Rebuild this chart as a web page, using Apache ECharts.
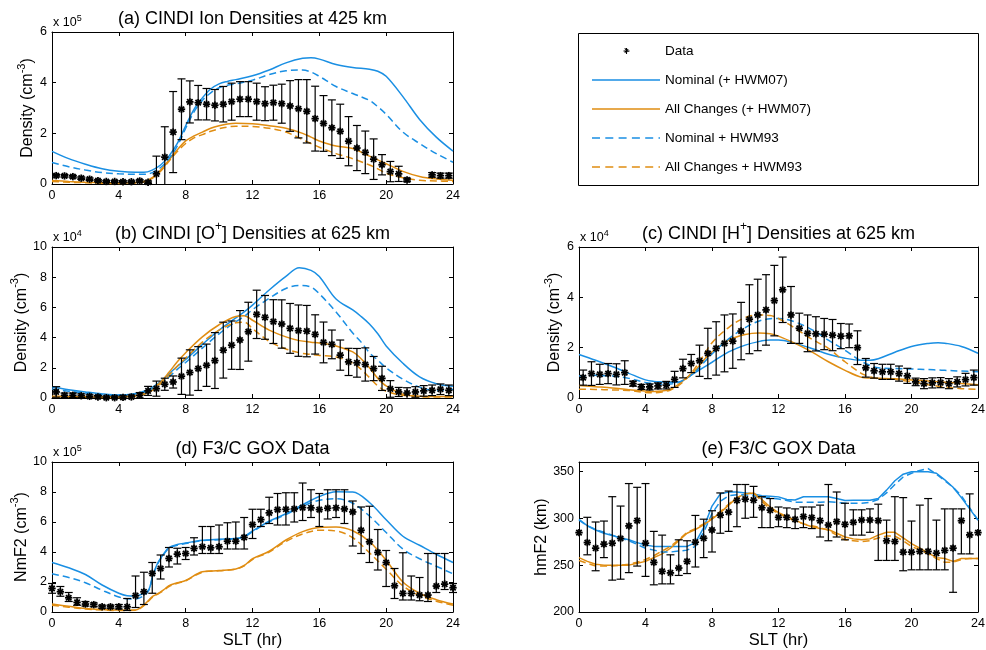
<!DOCTYPE html>
<html>
<head>
<meta charset="utf-8">
<title>CINDI and F3/C GOX comparisons</title>
<script src="https://cdn.jsdelivr.net/npm/echarts@6.0.0/dist/echarts.min.js"></script>
<style>
  html, body { margin: 0; padding: 0; background: #fff; }
  #chart { width: 986px; height: 650px; }
</style>
</head>
<body>
<div id="chart"></div>
<script>
// ---------------- series names ----------------
const NAME_DATA = 'Data';
const NAME_NOM = 'Nominal (+ HWM07)';
const NAME_ALL = 'All Changes (+ HWM07)';
const NAME_NOM93 = 'Nominal + HWM93';
const NAME_ALL93 = 'All Changes + HWM93';

// ---------------- (a) CINDI ion densities at 425 km, units of 1e5 cm^-3 ----------------
const ionObsHours = [0.25,0.75,1.25,1.75,2.25,2.75,3.25,3.75,4.25,4.75,5.25,5.75,6.25,6.75,7.25,7.75,8.25,8.75,9.25,9.75,10.25,10.75,11.25,11.75,12.25,12.75,13.25,13.75,14.25,14.75,15.25,15.75,16.25,16.75,17.25,17.75,18.25,18.75,19.25,19.75,20.25,20.75,21.25,22.75,23.25,23.75];
const ionObs = [0.33,0.32,0.29,0.23,0.19,0.13,0.10,0.10,0.09,0.09,0.12,0.07,
  0.40,1.06,2.05,2.95,3.24,3.21,3.15,3.11,3.15,3.25,3.35,3.35,3.25,3.17,3.21,3.17,3.08,2.97,2.87,2.58,2.39,2.22,2.08,1.69,1.42,1.25,0.98,0.76,0.49,0.40,0.16,
  0.36,0.33,0.33];
const ionErr = [0.05,0.05,0.05,0.05,0.05,0.04,0.04,0.04,0.04,0.04,0.05,0.05,
  0.70,1.20,1.60,1.20,0.83,0.68,0.62,0.62,0.70,0.73,0.69,0.69,0.73,0.67,0.69,0.77,1.00,1.15,1.25,1.28,1.10,1.10,1.07,0.97,0.89,0.84,0.80,0.40,0.40,0.30,0.07,
  0.09,0.10,0.10];
const ionModelHours = [0,1,2,3,4,5,5.5,6,6.5,7,7.5,8,8.5,9,9.5,10,10.5,11,12,13,14,15,15.5,16,17,18,19,19.5,20,21,22,23,24];
const ionNominal = [1.29,1.0,0.78,0.6,0.5,0.46,0.46,0.55,0.75,1.1,1.6,2.3,2.95,3.4,3.75,3.95,4.05,4.12,4.27,4.5,4.78,4.96,4.98,4.93,4.72,4.6,4.53,4.45,4.25,3.45,2.55,1.85,1.3];
const ionAllChanges = [0.14,0.1,0.07,0.05,0.04,0.06,0.1,0.25,0.55,0.95,1.35,1.7,1.9,2.05,2.2,2.3,2.37,2.4,2.38,2.3,2.2,2.0,1.85,1.7,1.5,1.4,1.1,0.95,0.8,0.5,0.3,0.2,0.15];
const ionNominal93 = [0.85,0.68,0.55,0.45,0.4,0.38,0.38,0.45,0.65,1.0,1.5,2.2,2.85,3.3,3.6,3.8,3.9,3.95,4.1,4.32,4.47,4.5,4.42,4.25,3.85,3.57,3.3,3.05,2.75,2.05,1.6,1.2,0.86];
const ionAllChanges93 = [0.1,0.07,0.05,0.03,0.02,0.04,0.08,0.22,0.5,0.9,1.28,1.6,1.82,1.95,2.08,2.18,2.25,2.28,2.27,2.2,2.05,1.75,1.6,1.45,1.2,1.0,0.75,0.6,0.42,0.25,0.15,0.12,0.1];

// ---------------- (b) and (c) CINDI bins at 625 km ----------------
const cindiHours = [0.25,0.75,1.25,1.75,2.25,2.75,3.25,3.75,4.25,4.75,5.25,5.75,6.25,6.75,7.25,7.75,8.25,8.75,9.25,9.75,10.25,10.75,11.25,11.75,12.25,12.75,13.25,13.75,14.25,14.75,15.25,15.75,16.25,16.75,17.25,17.75,18.25,18.75,19.25,19.75,20.25,20.75,21.25,21.75,22.25,22.75,23.25,23.75];

// (b) [O+], units of 1e4 cm^-3
const oxObs = [0.4,0.18,0.18,0.15,0.11,0.07,0.02,0.02,0.04,0.07,0.18,0.47,
  0.62,0.91,1.06,1.44,1.69,1.95,2.17,2.48,3.17,3.5,3.84,4.39,
  5.54,5.34,5.06,4.9,4.61,4.46,4.43,4.21,3.68,3.55,2.84,2.39,
  2.33,2.22,1.95,1.3,0.6,0.4,0.33,0.4,0.47,0.51,0.58,0.51];
const oxErr = [0.35,0.15,0.15,0.12,0.1,0.1,0.1,0.1,0.1,0.12,0.18,0.3,
  0.5,0.4,0.4,1.2,1.5,1.45,1.4,1.85,1.85,1.6,1.95,1.95,
  1.6,1.45,1.45,1.6,1.65,1.7,1.7,1.3,1.35,0.95,1.0,0.9,
  0.95,1.1,0.8,0.8,0.55,0.3,0.35,0.35,0.35,0.35,0.35,0.35];
const oxModelHours = [0,1,2,3,4,5,5.5,6,6.5,7,7.5,8,9,10,11,11.5,12,13,14,14.8,15.5,16,17,18,18.5,19,19.5,20,21,22,23,24];
const oxNominal = [0.73,0.55,0.4,0.27,0.2,0.3,0.45,0.7,1.1,1.6,2.1,2.55,3.55,4.5,5.3,5.7,6.15,7.15,8.05,8.62,8.45,8.05,6.55,5.83,5.4,4.9,4.25,3.45,2.3,1.4,0.95,0.78];
const oxAllChanges = [0.12,0.1,0.08,0.06,0.06,0.15,0.3,0.6,1.05,1.7,2.4,3.0,4.05,4.85,5.4,5.45,5.15,4.5,4.05,3.8,3.7,3.65,3.45,3.05,2.6,2.0,1.3,0.8,0.25,0.12,0.1,0.1];
const oxNominal93 = [0.6,0.45,0.33,0.23,0.18,0.25,0.38,0.6,0.95,1.4,1.9,2.35,3.3,4.25,5.05,5.4,5.85,6.6,7.25,7.45,7.35,6.9,5.7,4.3,3.7,3.0,2.5,2.0,1.25,0.72,0.5,0.58];
const oxAllChanges93 = [0.08,0.06,0.05,0.04,0.04,0.12,0.25,0.5,0.95,1.5,2.1,2.65,3.7,4.5,4.98,5.02,4.6,3.75,3.25,3.0,2.88,2.82,2.72,2.3,1.9,1.35,0.8,0.45,0.18,0.08,0.06,0.06];

// (c) [H+], units of 1e4 cm^-3
const hyObs = [0.81,0.97,0.94,0.97,0.94,1.01,0.57,0.44,0.44,0.48,0.51,0.74,
  1.17,1.37,1.48,1.77,1.97,2.17,2.26,2.66,3.13,3.3,3.5,3.87,
  4.3,3.3,2.77,2.57,2.55,2.54,2.5,2.46,2.47,2.0,1.2,1.08,
  1.04,1.04,0.97,0.88,0.64,0.57,0.6,0.61,0.57,0.64,0.73,0.81];
const hyErr = [0.3,0.47,0.4,0.4,0.42,0.47,0.1,0.1,0.12,0.12,0.15,0.32,
  0.37,0.36,0.62,1.0,1.06,1.13,1.08,1.14,1.37,1.42,1.4,1.4,
  1.3,1.13,0.6,0.73,0.68,0.62,0.62,0.5,0.47,0.67,0.37,0.29,
  0.3,0.3,0.3,0.3,0.15,0.2,0.2,0.2,0.2,0.2,0.25,0.3];
const hyModelHours = [0,1,2,3,4,4.5,5,5.5,6,6.5,7,7.5,8,9,10,10.8,11.5,12,13,14,15,16,17,17.5,18,19,20,21,21.6,22,23,24];
const hyNominal = [1.73,1.5,1.25,0.98,0.72,0.66,0.64,0.63,0.64,0.8,1.02,1.22,1.42,1.83,2.1,2.24,2.3,2.3,2.17,1.97,1.74,1.58,1.5,1.5,1.56,1.82,2.05,2.17,2.2,2.18,2.05,1.78];
const hyAllChanges = [0.5,0.45,0.4,0.33,0.28,0.26,0.28,0.35,0.55,0.82,1.1,1.5,1.83,2.3,2.52,2.58,2.55,2.46,2.17,1.83,1.44,1.1,0.82,0.79,0.78,0.76,0.72,0.68,0.65,0.63,0.58,0.53];
const hyNominal93 = [0.87,0.9,0.87,0.78,0.62,0.57,0.55,0.56,0.62,0.8,1.05,1.4,1.75,2.35,2.8,3.05,3.15,3.16,3.02,2.72,2.3,1.9,1.45,1.3,1.2,1.17,1.15,1.13,1.11,1.1,1.07,1.04];
const hyAllChanges93 = [0.35,0.34,0.32,0.3,0.22,0.21,0.24,0.32,0.5,0.8,1.2,1.7,2.2,2.8,3.2,3.3,3.28,3.16,2.77,2.34,1.97,1.44,0.97,0.85,0.77,0.74,0.64,0.53,0.47,0.44,0.37,0.35];

// ---------------- (d) and (e) F3/C GOX half-hour bins ----------------
const goxHours = [0,0.5,1,1.5,2,2.5,3,3.5,4,4.5,5,5.5,6,6.5,7,7.5,8,8.5,9,9.5,10,10.5,11,11.5,12,12.5,13,13.5,14,14.5,15,15.5,16,16.5,17,17.5,18,18.5,19,19.5,20,20.5,21,21.5,22,22.5,23,23.5,24];

// (d) NmF2, units of 1e5 cm^-3
const nmObs = [1.57,1.35,0.95,0.64,0.53,0.49,0.35,0.35,0.35,0.35,
  1.09,1.35,2.57,2.9,3.57,3.86,3.9,4.24,4.35,4.28,
  4.35,4.72,4.72,4.97,5.83,6.16,6.61,6.83,6.85,6.87,
  6.96,6.94,6.83,6.92,6.94,6.87,6.67,5.45,4.68,3.97,
  3.3,1.75,1.24,1.24,1.13,1.13,1.73,1.86,1.62];
const nmLow = [1.25,1.05,0.7,0.45,0.4,0.35,0.25,0.25,0.2,0.1,
  0.3,0.5,1.25,2.2,3.0,3.2,3.5,3.8,3.9,3.9,
  3.9,4.2,4.2,4.2,4.9,5.7,5.9,5.8,5.8,6.0,
  6.1,6.3,5.7,6.2,6.3,5.9,4.4,3.9,3.3,2.8,
  1.7,0.9,0.8,0.8,0.75,0.7,1.3,1.5,1.3];
const nmHigh = [1.9,1.7,1.3,0.95,0.7,0.6,0.45,0.45,0.5,0.9,
  2.4,2.65,3.3,3.8,4.3,4.25,4.3,4.95,5.7,5.7,
  5.8,5.95,6.0,6.3,6.85,6.85,7.65,7.9,7.95,7.95,
  8.6,8.15,7.9,8.15,8.15,8.15,7.4,7.0,7.05,5.5,
  4.1,2.9,3.95,2.4,2.3,3.9,3.9,3.9,1.9];
const nmModelHours = [0,1,2,3,4,4.5,5,5.5,5.8,6,6.3,6.7,7,7.5,8,9,10,11,11.5,12,13,14,15,16,17,18,19,20,21,22,23,24];
const nmNominal = [3.3,2.95,2.5,1.8,1.25,1.09,1.07,1.24,1.5,2.3,3.2,3.9,4.3,4.5,4.6,4.78,4.85,4.9,5.05,5.4,6.05,6.55,7.15,7.7,8.02,8.0,7.3,6.15,5.05,4.45,3.85,3.3];
const nmAllChanges = [0.53,0.38,0.24,0.17,0.13,0.12,0.13,0.47,0.8,1.02,1.2,1.5,1.75,1.95,2.1,2.68,2.76,2.87,3.1,3.55,4.05,4.8,5.36,5.64,5.67,5.42,4.7,3.45,2.0,1.25,0.82,0.53];
const nmNominal93 = [2.55,2.3,1.95,1.45,1.0,0.88,0.87,1.1,1.45,2.25,3.15,3.85,4.25,4.45,4.57,4.75,4.82,4.88,5.0,5.35,6.0,6.5,7.05,7.45,7.55,7.25,6.4,5.3,4.2,3.55,3.05,2.55];
const nmAllChanges93 = [0.45,0.32,0.2,0.13,0.1,0.1,0.11,0.42,0.75,0.98,1.17,1.45,1.7,1.92,2.08,2.65,2.75,2.86,3.08,3.5,4.0,4.7,5.2,5.45,5.4,4.95,3.95,2.85,1.75,1.1,0.72,0.45];

// (e) hmF2, km
const hmObs = [284.7,274.1,268.1,272.4,273.4,278.4,291.8,297.4,273.4,252.9,
  243.4,241.7,246.9,254,274.5,278.7,287.5,303.4,306.6,319,
  320.4,319.3,311.2,308.7,301,301,298.8,301.7,300.6,297.4,
  292.8,296.4,293.5,295.7,298.1,298.1,297.4,275.9,275.2,263.9,
  263.9,264.6,264.6,262.8,265.7,268.1,297.4,282.2,284.7];
const hmLow = [284.7,261,244,258,234,235,242,249,238,229,
  230,230,239,241,248,258,264,284,286,291,
  300,301,290,290,291,290,289,290,289,280,
  276,280,277,282,282,285,255,255,255,244,
  245,245,245,245,245,221,262,262,284.7];
const hmHigh = [284.7,301,296,297,323,313,337,333,337,286,
  282,261,277,276,303,299,308,327,329,336,
  336,334,323,321,312,311,310,312,312,314,
  336,328,316,309,309,310,315,298,323,322,
  297,314,321,298,310,310,310,326,284.7];
const hmNominal = [298.8,292,287.5,284,281.5,279,277,274,271.5,270,
  270,270,270,270,274,290,313,326,328,328,
  327,326,324,323.5,322.8,320,319.5,323,323,323,
  323,321,319,319.3,319.3,319.3,321,330,340,347,
  349.5,349.5,349.5,348,341,333,322,310,298];
const hmAllChanges = [258,254,251,250,250,250,250,252,254,258,
  262,268,276,284,288,293,299,306,314,322,
  326,327,320,312,306,302,298,294,291,289,
  288,284,280,278,277,278,282,285,285,279,
  273,268,263,258,257,254,257,257,257];
const hmNominal93 = [298,292,288,285,282,279,276,272,268,266,
  264,264,265,266,270,285,305,318,324,325,
  325,324,322.5,321.5,320.5,319,317,317,317,317,
  317.5,317,316,316,316,317,320,327,336,344,
  348,351,353,347,340,333,324,311,298];
const hmAllChanges93 = [255,252,249,249,249,250,251,253,256,260,
  265,270,277,285,289,294,300,307,315,322,
  326,327,318,310,305,301,297,294,292,290,
  287,282,277,276,275,276,279,281,281,276,
  270,266,262,257,253,253,256,257,257];

// ---------------- styling ----------------
const FONT = '"Liberation Sans", Arial, Helvetica, sans-serif';
const BLUE = '#1a8fe3';
const ORANGE = '#e08d12';
const INK = '#000';

const pairs = (xs, ys) => xs.map((x, i) => [x, ys[i]]);
const symErr = (xs, ys, es) => xs.map((x, i) => [x, ys[i], ys[i] - es[i], ys[i] + es[i]]);
const rangeErr = (xs, ys, lo, hi) => xs.map((x, i) => [x, ys[i], lo[i], hi[i]]);

const panels = [
  { grid: { left: 52, top: 32, width: 401, height: 152 }, yMin: 0, yMax: 6, yStep: 2,
    title: '{n|(a) CINDI Ion Densities at 425 km}', exp: '5',
    yName: '{n|Density (cm}{s|-3}{n|)}', yGap: 16, xName: '',
    obs: symErr(ionObsHours, ionObs, ionErr), mh: ionModelHours,
    nom: ionNominal, all: ionAllChanges, nom93: ionNominal93, all93: ionAllChanges93, smooth: 0.35 },
  { grid: { left: 52, top: 247, width: 401, height: 151 }, yMin: 0, yMax: 10, yStep: 2,
    title: '{n|(b) CINDI [O}{s|+}{n|] Densities at 625 km}', exp: '4',
    yName: '{n|Density (cm}{s|-3}{n|)}', yGap: 16, xName: '',
    obs: symErr(cindiHours, oxObs, oxErr), mh: oxModelHours,
    nom: oxNominal, all: oxAllChanges, nom93: oxNominal93, all93: oxAllChanges93, smooth: 0.35 },
  { grid: { left: 579, top: 247, width: 399, height: 151 }, yMin: 0, yMax: 6, yStep: 2,
    title: '{n|(c) CINDI [H}{s|+}{n|] Densities at 625 km}', exp: '4',
    yName: '{n|Density (cm}{s|-3}{n|)}', yGap: 16, xName: '',
    obs: symErr(cindiHours, hyObs, hyErr), mh: hyModelHours,
    nom: hyNominal, all: hyAllChanges, nom93: hyNominal93, all93: hyAllChanges93, smooth: 0.35 },
  { grid: { left: 52, top: 462, width: 401, height: 150 }, yMin: 0, yMax: 10, yStep: 2,
    title: '{n|(d) F3/C GOX Data}', exp: '5',
    yName: '{n|NmF2 (cm}{s|-3}{n|)}', yGap: 22, xName: 'SLT (hr)',
    obs: rangeErr(goxHours, nmObs, nmLow, nmHigh), mh: nmModelHours,
    nom: nmNominal, all: nmAllChanges, nom93: nmNominal93, all93: nmAllChanges93, smooth: 0.35 },
  { grid: { left: 579, top: 462, width: 399, height: 150 }, yMin: 200, yMax: 360, yStep: 50,
    title: '{n|(e) F3/C GOX Data}', exp: '',
    yName: '{n|hmF2 (km)}', yGap: 28, xName: 'SLT (hr)',
    obs: rangeErr(goxHours, hmObs, hmLow, hmHigh), mh: goxHours,
    nom: hmNominal, all: hmAllChanges, nom93: hmNominal93, all93: hmAllChanges93, smooth: false }
];

const richLabel = (size) => ({
  n: { fontSize: size, fontFamily: FONT, color: INK, lineHeight: size + 4, verticalAlign: 'bottom' },
  s: { fontSize: Math.round(size * 0.68), fontFamily: FONT, color: INK, lineHeight: size + 4, verticalAlign: 'top' }
});

// error bars with caps plus an asterisk marker at the bin value
function errorBarItem(params, api) {
  const cs = params.coordSys;
  const top = cs.y, bottom = cs.y + cs.height;
  const x = api.value(0);
  const c = api.coord([x, api.value(1)]);
  const lo = api.coord([x, api.value(2)])[1];
  const hi = api.coord([x, api.value(3)])[1];
  const bar = { stroke: INK, lineWidth: 1.2 };
  const kids = [];
  if (lo - hi > 0.5) {
    kids.push({ type: 'line', shape: { x1: c[0], y1: Math.max(hi, top), x2: c[0], y2: Math.min(lo, bottom) }, style: bar });
    const w = 4;
    if (hi >= top) kids.push({ type: 'line', shape: { x1: c[0] - w, y1: hi, x2: c[0] + w, y2: hi }, style: bar });
    if (lo <= bottom) kids.push({ type: 'line', shape: { x1: c[0] - w, y1: lo, x2: c[0] + w, y2: lo }, style: bar });
  }
  const r = 3.7, d = 2.7;
  const star = { stroke: INK, lineWidth: 1.8 };
  kids.push({ type: 'line', shape: { x1: c[0] - r, y1: c[1], x2: c[0] + r, y2: c[1] }, style: star });
  kids.push({ type: 'line', shape: { x1: c[0], y1: c[1] - r, x2: c[0], y2: c[1] + r }, style: star });
  kids.push({ type: 'line', shape: { x1: c[0] - d, y1: c[1] - d, x2: c[0] + d, y2: c[1] + d }, style: star });
  kids.push({ type: 'line', shape: { x1: c[0] - d, y1: c[1] + d, x2: c[0] + d, y2: c[1] - d }, style: star });
  return { type: 'group', children: kids };
}

const grids = [], xAxes = [], yAxes = [], series = [], graphics = [];

panels.forEach((p, i) => {
  grids.push(Object.assign({ containLabel: false, outerBoundsMode: 'none' }, p.grid));
  const tickStyle = { show: true, inside: true, length: 4, lineStyle: { color: INK, width: 1 } };
  const lineStyle = { show: true, onZero: false, lineStyle: { color: INK, width: 1 } };
  const labelStyle = { color: INK, fontFamily: FONT, fontSize: 12.5 };
  xAxes.push({
    type: 'value', gridIndex: i, position: 'bottom', min: 0, max: 24, interval: 4,
    axisLine: lineStyle, axisTick: tickStyle, splitLine: { show: false },
    axisLabel: Object.assign({ margin: 5 }, labelStyle),
    name: p.xName, nameLocation: 'middle', nameGap: 20,
    nameTextStyle: { color: INK, fontFamily: FONT, fontSize: 16.5 }
  });
  yAxes.push({
    type: 'value', gridIndex: i, position: 'left', min: p.yMin, max: p.yMax, interval: p.yStep,
    axisLine: lineStyle, axisTick: tickStyle, splitLine: { show: false },
    axisLabel: Object.assign({ margin: 5, showMaxLabel: p.yMax % p.yStep === 0 }, labelStyle),
    name: p.yName, nameLocation: 'middle', nameRotate: 90, nameGap: p.yGap,
    nameTextStyle: { color: INK, fontFamily: FONT, fontSize: 16, rich: richLabel(16) }
  });

  const mk = (name, vals, color, type) => ({
    name, type: 'line', xAxisIndex: i, yAxisIndex: i, data: pairs(p.mh, vals),
    symbol: 'none', smooth: p.smooth, color, silent: true, z: 2,
    lineStyle: { color, width: 1.5, type }
  });
  series.push(mk(NAME_NOM, p.nom, BLUE, 'solid'));
  series.push(mk(NAME_ALL, p.all, ORANGE, 'solid'));
  series.push(mk(NAME_NOM93, p.nom93, BLUE, [7, 4]));
  series.push(mk(NAME_ALL93, p.all93, ORANGE, [7, 4]));
  series.push({
    name: NAME_DATA, type: 'custom', xAxisIndex: i, yAxisIndex: i, data: p.obs,
    renderItem: errorBarItem, itemStyle: { color: INK }, silent: true, z: 3,
    encode: { x: 0, y: 1 }
  });

  const cx = p.grid.left + p.grid.width / 2;
  graphics.push({
    type: 'text', x: cx, y: p.grid.top - 15, silent: true,
    style: { text: p.title, align: 'center', verticalAlign: 'middle', fill: INK,
      fontFamily: FONT, fontSize: 18,
      rich: {
        n: { fontSize: 18, fontFamily: FONT, fill: INK, lineHeight: 22, verticalAlign: 'bottom' },
        s: { fontSize: 12, fontFamily: FONT, fill: INK, lineHeight: 22, verticalAlign: 'top' }
      } }
  });
  if (p.exp) {
    graphics.push({
      type: 'text', x: p.grid.left + 1, y: p.grid.top - 3, silent: true,
      style: { text: '{n|x 10}{s|' + p.exp + '}', align: 'left', verticalAlign: 'bottom', fill: INK,
        rich: {
          n: { fontSize: 12.5, fontFamily: FONT, fill: INK, lineHeight: 15, verticalAlign: 'bottom' },
          s: { fontSize: 9, fontFamily: FONT, fill: INK, lineHeight: 15, verticalAlign: 'top' }
        } }
    });
  }
});

// mirrored tick marks along the top and right edges of every panel
panels.forEach((p, i) => {
  const tickStyle = { show: true, inside: true, length: 4, lineStyle: { color: INK, width: 1 } };
  const lineStyle = { show: true, onZero: false, lineStyle: { color: INK, width: 1 } };
  xAxes.push({ type: 'value', gridIndex: i, position: 'top', min: 0, max: 24, interval: 4,
    axisLine: lineStyle, axisTick: tickStyle, axisLabel: { show: false }, splitLine: { show: false } });
  yAxes.push({ type: 'value', gridIndex: i, position: 'right', min: p.yMin, max: p.yMax, interval: p.yStep,
    axisLine: lineStyle, axisTick: tickStyle, axisLabel: { show: false }, splitLine: { show: false } });
});

// legend frame
graphics.push({
  type: 'rect', silent: true, z: 0,
  shape: { x: 578.5, y: 33.5, width: 400, height: 152 },
  style: { fill: 'none', stroke: INK, lineWidth: 1 }
});

// legend icons (68 x 8 boxes)
const BOX = 'M0,0h0.01v0.01h-0.01z M68,8h-0.01v-0.01h0.01z ';
const solidIcon = 'path://' + BOX + 'M0,3.25h68v1.5h-68z';
const dashedIcon = 'path://' + BOX + 'M0,3.25h8v1.5h-8z M13.3,3.25h8v1.5h-8z M26.6,3.25h8v1.5h-8z M39.9,3.25h8v1.5h-8z M53.2,3.25h8v1.5h-8z M66.5,3.25h1.5v1.5h-1.5z';
const starIcon = 'path://' + BOX + 'M31.5,3.45h6v1.1h-6z M33.95,1h1.1v6h-1.1z M32.35,1.65L33.05,0.95L36.65,4.55L35.95,5.25z M35.95,1.65L36.65,2.35L33.05,5.95L32.35,5.25z';

const option = {
  animation: false,
  backgroundColor: '#fff',
  grid: grids,
  xAxis: xAxes,
  yAxis: yAxes,
  series: series,
  graphic: graphics,
  legend: {
    orient: 'vertical', left: 592, top: 44, padding: 0,
    itemWidth: 68, itemHeight: 8, itemGap: 15, selectedMode: false,
    itemStyle: { borderWidth: 0 },
    textStyle: { color: INK, fontFamily: FONT, fontSize: 13.5, lineHeight: 14 },
    data: [
      { name: NAME_DATA, icon: starIcon },
      { name: NAME_NOM, icon: solidIcon },
      { name: NAME_ALL, icon: solidIcon },
      { name: NAME_NOM93, icon: dashedIcon },
      { name: NAME_ALL93, icon: dashedIcon }
    ]
  }
};

const chart = echarts.init(document.getElementById('chart'), null, { renderer: 'canvas' });
chart.setOption(option);
</script>
</body>
</html>
